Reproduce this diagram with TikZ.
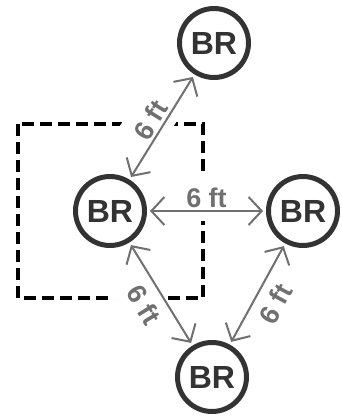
\documentclass[tikz,border=0pt]{standalone}
\usepackage{fontspec}
\setmainfont{Liberation Sans}
\usetikzlibrary{arrows.meta}
\definecolor{ringc}{HTML}{333333}
\definecolor{arrc}{HTML}{707070}
\begin{document}
\begin{tikzpicture}[x=1pt,y=-1pt,
 br/.style={circle, draw=ringc, line width=5pt, minimum size=69pt, inner sep=0pt, font=\fontsize{32}{32}\selectfont\bfseries, text=ringc},
 link/.style={draw=arrc, line width=2pt, {Straight Barb[length=13pt,width=28pt]}-{Straight Barb[length=13pt,width=28pt]}, shorten <=3pt, shorten >=3pt},
 lbl/.style={font=\fontsize{27}{27}\selectfont\bfseries, text=arrc, fill=white, inner xsep=6pt, inner ysep=13pt, sloped, behind path, pos=0.5},
 dashbox/.style={draw=black, line width=4pt, dash pattern=on 12pt off 6pt}]
\useasboundingbox (0,0) rectangle (341,417);
\fill[white] (0,0) rectangle (341,417);
\draw[dashbox] (18,124) rectangle (203,298);
\node[br] (T) at (214,43) {BR};
\node[br] (L) at (110,211) {BR};
\node[br] (R) at (303,211) {BR};
\node[br] (B) at (212,377) {BR};
\draw[link] (L) -- node[lbl, above=-10.5pt] {6 ft} (T);
\draw[link] (L) -- node[lbl, above=-10.5pt] {6 ft} (R);
\draw[link] (L) -- node[lbl, below=-4pt] {6 ft} (B);
\draw[link] (B) -- node[lbl, below=-3.5pt] {6 ft} (R);
\end{tikzpicture}
\end{document}
